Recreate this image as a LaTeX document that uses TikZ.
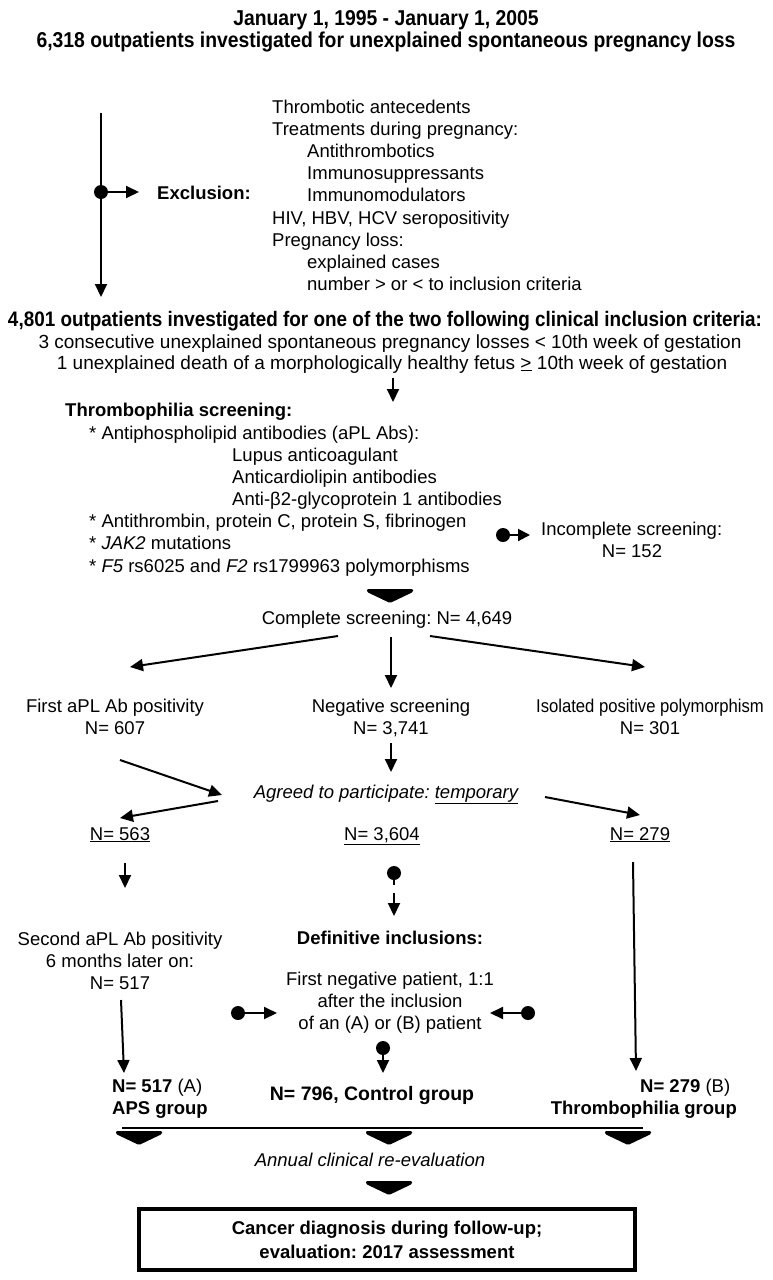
\documentclass[tikz,border=0pt]{standalone}
\usepackage{fontspec}
\setmainfont{Liberation Sans}
\newfontfamily\condfont[FakeStretch=0.9]{Liberation Sans}
\usetikzlibrary{arrows.meta}
\frenchspacing
\begin{document}
\frenchspacing
\begin{tikzpicture}[x=1pt,y=-1pt,
  txt/.style={inner sep=0pt,font=\fontsize{18.5}{22}\selectfont},
  lt/.style={txt,anchor=base west},
  ct/.style={txt,anchor=base},
  bt/.style={txt,font=\fontsize{18.5}{22}\selectfont\bfseries},
  cond/.style={inner sep=0pt,anchor=base,font=\fontsize{21.5}{22}\selectfont\condfont\bfseries},
  arr/.style={line width=2pt,-{Triangle[length=13pt,width=12pt]}},
  ln/.style={line width=2pt},
  dotst/.style={circle,fill=black,inner sep=0pt,minimum size=14pt},
  chev/.style={fill=black,rounded corners=1.2pt}]
\useasboundingbox (0,0) rectangle (772,1280);
% title
\node[cond] (t1) at (386,25) {January 1, 1995 - January 1, 2005};
\node[cond] (t2) at (386,47) {6,318 outpatients investigated for unexplained spontaneous pregnancy loss};
% exclusion
\coordinate (v0) at (101,113);
\coordinate (v1) at (101,297);
\draw[arr] (v0) -- (v1);
\node[dotst] (d1) at (101,192) {};
\coordinate (e1) at (139,192);
\draw[arr] (d1.center) -- (e1);
\node[bt,anchor=base west] (excl) at (157,199) {Exclusion:};
\node[lt] (x1) at (272,113) {Thrombotic antecedents};
\node[lt] (x2) at (272,135) {Treatments during pregnancy:};
\node[lt] (x3) at (307,157) {Antithrombotics};
\node[lt] (x4) at (307,179) {Immunosuppressants};
\node[lt] (x5) at (307,201) {Immunomodulators};
\node[lt] (x6) at (272,224) {HIV, HBV, HCV seropositivity};
\node[lt] (x7) at (272,246) {Pregnancy loss:};
\node[lt] (x8) at (307,268) {explained cases};
\node[lt] (x9) at (307,290) {number > or < to inclusion criteria};
% inclusion
\node[cond,font=\fontsize{21}{22}\selectfont\condfont\bfseries] (i1) at (385,326) {4,801 outpatients investigated for one of the two following clinical inclusion criteria:};
\node[ct,font=\fontsize{19}{22}\selectfont] (i2) at (390,348) {3 consecutive unexplained spontaneous pregnancy losses < 10th week of gestation};
\node[ct,font=\fontsize{19}{22}\selectfont] (i3) at (392,369) {1 unexplained death of a morphologically healthy fetus \underline{>} 10th week of gestation};
\coordinate (a1s) at (393,378);
\coordinate (a1e) at (393,402);
\draw[arr] (a1s) -- (a1e);
% screening
\node[bt,anchor=base west] (s0) at (65,416) {Thrombophilia screening:};
\node[lt] (s1) at (89,439) {* Antiphospholipid antibodies (aPL Abs):};
\node[lt] (s2) at (232,461) {Lupus anticoagulant};
\node[lt] (s3) at (232,483) {Anticardiolipin antibodies};
\node[lt] (s4) at (232,505) {Anti-β2-glycoprotein 1 antibodies};
\node[lt] (s5) at (89,527) {* Antithrombin, protein C, protein S, fibrinogen};
\node[lt] (s6) at (89,549) {* \textit{JAK2} mutations};
\node[lt] (s7) at (89,572) {* \textit{F5} rs6025 and \textit{F2} rs1799963 polymorphisms};
\node[dotst] (d2) at (503,535) {};
\coordinate (e2) at (530,535);
\draw[arr,-{Triangle[length=12pt,width=12pt]}] (d2.center) -- (e2);
\node[lt] (inc1) at (541,535) {Incomplete screening:};
\node[ct] (inc2) at (632,557) {N= 152};
\fill[chev] (367,589) -- (413,589) -- (413,592) -- (390,603) -- (367,592) -- cycle;
\node[ct] (cs) at (387,624) {Complete screening: N= 4,649};
\coordinate (b1s) at (338,636); \coordinate (b1e) at (130,667);
\coordinate (b2s) at (391,637); \coordinate (b2e) at (391,688);
\coordinate (b3s) at (430,636); \coordinate (b3e) at (645,667);
\draw[arr] (b1s) -- (b1e);
\draw[arr] (b2s) -- (b2e);
\draw[arr] (b3s) -- (b3e);
\node[ct] (p1) at (115,712) {First aPL Ab positivity};
\node[ct] (p1n) at (115,734) {N= 607};
\node[ct] (p2) at (391,712) {Negative screening};
\node[ct] (p2n) at (391,734) {N= 3,741};
\node[ct] (p3) at (650,712) {\scalebox{0.9}[1]{Isolated positive polymorphism}};
\node[ct] (p3n) at (650,734) {N= 301};
\coordinate (c2s) at (391,743); \coordinate (c2e) at (391,772);
\draw[arr] (c2s) -- (c2e);
\coordinate (c1s) at (120,760); \coordinate (c1e) at (222,795);
\draw[arr] (c1s) -- (c1e);
\node[ct,font=\fontsize{18.5}{22}\selectfont\itshape] (agr) at (386,798) {Agreed to participate: \underline{temporary}};
\coordinate (c3s) at (218,801); \coordinate (c3e) at (120,818);
\draw[arr] (c3s) -- (c3e);
\coordinate (c4s) at (545,797); \coordinate (c4e) at (640,815);
\draw[arr] (c4s) -- (c4e);
\node[ct] (n1) at (120,840) {\underline{N= 563}};
\node[ct] (n2) at (382,840) {\underline{N= 3,604}};
\node[ct] (n3) at (640,840) {\underline{N= 279}};
% left column
\coordinate (l1s) at (125,863); \coordinate (l1e) at (125,888);
\draw[arr] (l1s) -- (l1e);
\node[ct] (q1) at (120,945) {Second aPL Ab positivity};
\node[ct] (q2) at (120,967) {6 months later on:};
\node[ct] (q3) at (120,989) {N= 517};
\coordinate (l2s) at (121,1000); \coordinate (l2e) at (124,1073);
\draw[arr] (l2s) -- (l2e);
% center column
\node[dotst] (d3) at (394,873) {};
\coordinate (d3e) at (394,885);
\draw[ln] (d3.center) -- (d3e);
\coordinate (m1s) at (394,893); \coordinate (m1e) at (394,916);
\draw[arr] (m1s) -- (m1e);
\node[bt,anchor=base] (def) at (390,944) {Definitive inclusions:};
\node[ct] (f1) at (390,985) {First negative patient, 1:1};
\node[ct] (f2) at (390,1007) {after the inclusion};
\node[ct] (f3) at (390,1029) {of an (A) or (B) patient};
\node[dotst] (d4) at (238,1013) {};
\coordinate (d4e) at (277,1013);
\draw[arr] (d4.center) -- (d4e);
\node[dotst] (d5) at (528,1013) {};
\coordinate (d5e) at (490,1013);
\draw[arr] (d5.center) -- (d5e);
\node[dotst] (d6) at (383,1048) {};
\coordinate (d6e) at (383,1073);
\draw[arr] (d6.center) -- (d6e);
% right column
\coordinate (r1s) at (633,862); \coordinate (r1e) at (636,1071);
\draw[arr] (r1s) -- (r1e);
% groups
\node[lt] (g1) at (112,1092) {\textbf{N= 517} (A)};
\node[bt,anchor=base west] (g1b) at (112,1114) {APS group};
\node[bt,anchor=base,font=\fontsize{19.5}{22}\selectfont\bfseries] (g2) at (372,1100) {N= 796, Control group};
\node[lt] (g3) at (640,1092) {\textbf{N= 279} (B)};
\node[bt,anchor=base east] (g3b) at (737,1114) {Thrombophilia group};
\coordinate (h1) at (122,1128); \coordinate (h2) at (643,1128);
\draw[line width=2.5pt] (h1) -- (h2);
\foreach \cx in {139,389,628}{
  \fill[chev] (\cx-23,1131) -- (\cx+23,1131) -- (\cx+23,1134) -- (\cx,1145) -- (\cx-23,1134) -- cycle;
}
\node[ct,font=\fontsize{18.5}{22}\selectfont\itshape] (ann) at (370,1166) {Annual clinical re-evaluation};
\fill[chev] (366,1181) -- (412,1181) -- (412,1184) -- (389,1195) -- (366,1184) -- cycle;
\node[draw,line width=4pt,minimum width=496pt,minimum height=61pt,inner sep=0pt,align=center,
  font=\fontsize{18.5}{24}\selectfont\bfseries] (box) at (387,1239.5) {Cancer diagnosis during follow-up;\\evaluation: 2017 assessment};
\end{tikzpicture}
\end{document}
